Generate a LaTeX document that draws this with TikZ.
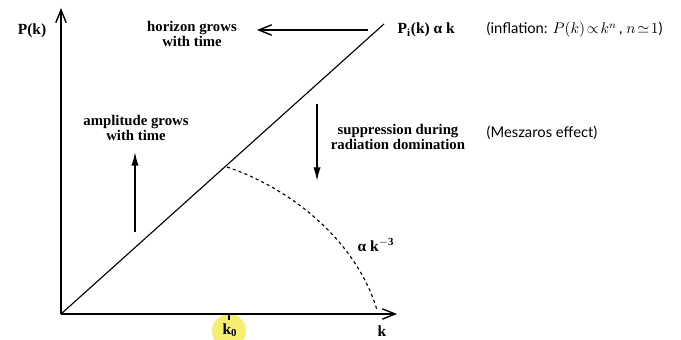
\documentclass[tikz,border=0pt]{standalone}
\usepackage{fontspec}
\usepackage{amsmath}
\setmainfont{Liberation Serif}
\newfontfamily\gillfont{Lato}
\usetikzlibrary{arrows.meta,positioning}
\definecolor{HiYellow}{HTML}{F4EE72}
\tikzset{
  axisLine/.style={line width=1pt, -{Straight Barb[length=3.2mm, width=2.6mm]}},
  specLine/.style={line width=0.8pt},
  tailLine/.style={line width=0.8pt, dash pattern=on 2.2pt off 2.2pt},
  flowArrow/.style={line width=1pt, -{Straight Barb[length=3.2mm, width=2.6mm]}},
  vertArrow/.style={line width=1pt, -{Latex[length=3.4mm, width=1.8mm]}},
  noteText/.style={font=\fontsize{10.5}{11.2}\selectfont\bfseries, align=center, inner sep=1pt},
  sideText/.style={font=\fontsize{10.5}{12}\selectfont\gillfont, inner sep=1pt},
  axisText/.style={font=\fontsize{11}{12}\selectfont\bfseries, inner sep=1pt}
}
\begin{document}
\begin{tikzpicture}[x=0.025cm, y=-0.025cm]
  \useasboundingbox (0,0) rectangle (681,340);

  % highlight under k0
  \fill[HiYellow] (229,331) circle (17);

  % key points
  \coordinate (orig) at (61,314);
  \coordinate (ytop) at (61,8);
  \coordinate (xend) at (397,314);
  \coordinate (pend) at (384,24);
  \coordinate (turn) at (227,167);
  \coordinate (tailend) at (377,310);
  \coordinate (ktick) at (229,314);

  % axes
  \draw [axisLine] (orig) -- (ytop);
  \draw [axisLine] (orig) -- (xend);
  \draw [line width=0.8pt] (ktick) -- ++(0,6);

  % spectrum
  \draw [specLine] (orig) -- (pend);
  \draw [tailLine] (turn) .. controls (290,188) and (356,240) .. (tailend);

  % axis labels
  \node (pk) [axisText] at (32,31) {P(k)};
  \node (klab) [axisText] at (382,331) {k};
  \node (k0lab) [axisText] at (230,330) {k$_{\mathbf 0}$};

  % spectrum labels
  \node (pilab) [axisText, anchor=west] at (396,30) {P$_{\mathbf i}$(k) α k};
  \node (inflab) [sideText, anchor=west] at (485,30) {(inflation: $P(k)\!\propto\!k^{n}$\,, $n\!\simeq\!1$)};
  \node (taillab) [axisText] at (376,245) {α k$^{\mathbf{-3}}$};

  % horizon
  \node (horizon) [noteText] at (192,34) {horizon grows\\with time};
  \coordinate (hstart) at (368,30);
  \coordinate (hend) at (257,30);
  \draw [flowArrow] (hstart) -- (hend);

  % amplitude
  \node (ampl) [noteText] at (136,128) {amplitude grows\\with time};
  \coordinate (abot) at (135,232);
  \coordinate (atop) at (135,152);
  \draw [vertArrow] (abot) -- (atop);

  % suppression
  \node (supp) [noteText] at (398,137) {suppression during\\radiation domination};
  \node (mesz) [sideText, anchor=west] at (485,133) {(Meszaros effect)};
  \coordinate (stop) at (317,104);
  \coordinate (sbot) at (317,181);
  \draw [vertArrow] (stop) -- (sbot);
\end{tikzpicture}
\end{document}
